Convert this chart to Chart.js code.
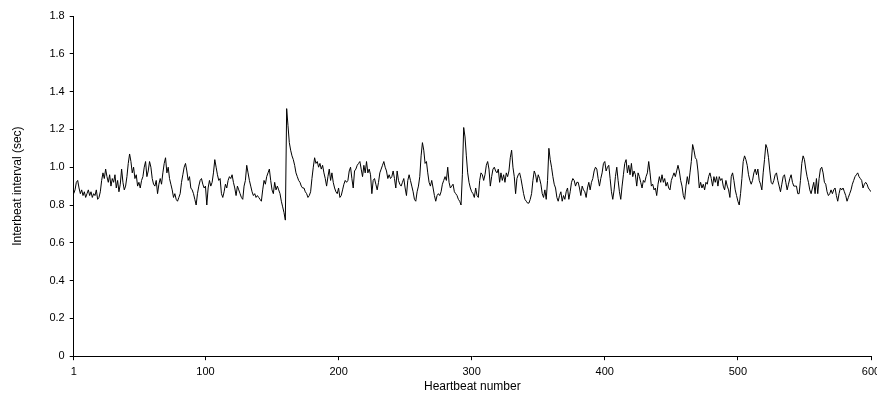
<!DOCTYPE html>
<html>
<head>
<meta charset="utf-8">
<script src="https://cdn.jsdelivr.net/npm/chart.js@4"></script>
<style>
  html, body { margin: 0; padding: 0; background: #fff; }
  #wrap { width: 877px; height: 401px; }
</style>
</head>
<body>
<div id="wrap"><canvas id="myChart" width="877" height="401"></canvas></div>
<script>
// interbeat intervals (sec), one per heartbeat 1..600
var intervals = [
  0.86, 0.88, 0.92, 0.93, 0.89, 0.86, 0.88, 0.85, 0.87, 0.84,
  0.86, 0.88, 0.85, 0.87, 0.84, 0.86, 0.85, 0.88, 0.83, 0.84,
  0.87, 0.93, 0.97, 0.94, 0.99, 0.95, 0.92, 0.96, 0.90, 0.94,
  0.92, 0.96, 0.89, 0.93, 0.87, 0.91, 0.99, 0.92, 0.88, 0.90,
  0.95, 1.02, 1.07, 1.03, 0.97, 1.00, 0.94, 0.96, 0.90, 0.92,
  0.89, 0.93, 0.95, 1.00, 1.03, 0.95, 0.98, 1.03, 1.00, 0.94,
  0.91, 0.90, 0.93, 0.86, 0.91, 0.94, 0.91, 0.97, 1.02, 1.05,
  0.97, 1.00, 0.94, 0.91, 0.88, 0.84, 0.86, 0.83, 0.82, 0.84,
  0.86, 0.92, 0.96, 1.00, 1.02, 0.98, 0.93, 0.95, 0.89, 0.88,
  0.86, 0.83, 0.80, 0.86, 0.90, 0.93, 0.94, 0.91, 0.89, 0.90,
  0.80, 0.89, 0.93, 0.90, 0.92, 0.97, 1.04, 1.00, 0.96, 0.93,
  0.94, 0.86, 0.84, 0.87, 0.91, 0.89, 0.93, 0.95, 0.94, 0.96,
  0.92, 0.89, 0.85, 0.90, 0.88, 0.86, 0.84, 0.83, 0.90, 0.93,
  1.01, 0.97, 0.93, 0.90, 0.87, 0.85, 0.86, 0.84, 0.85, 0.84,
  0.83, 0.82, 0.88, 0.93, 0.91, 0.95, 0.97, 0.99, 0.93, 0.88,
  0.86, 0.92, 0.88, 0.90, 0.88, 0.86, 0.82, 0.79, 0.76, 0.72,
  1.31, 1.22, 1.13, 1.09, 1.06, 1.04, 1.01, 0.97, 0.95, 0.93,
  0.92, 0.90, 0.89, 0.89, 0.87, 0.86, 0.84, 0.85, 0.87, 0.94,
  1.00, 1.05, 1.02, 1.03, 1.00, 1.02, 0.99, 1.01, 0.97, 0.94,
  0.90, 0.95, 0.99, 0.93, 0.97, 0.92, 0.89, 0.87, 0.86, 0.89,
  0.84, 0.85, 0.88, 0.91, 0.93, 0.92, 0.93, 0.98, 1.00, 0.94,
  0.89, 0.98, 0.99, 1.01, 1.02, 1.03, 0.99, 0.95, 1.01, 0.97,
  1.03, 0.97, 0.99, 0.96, 0.86, 0.93, 0.94, 0.91, 0.88, 0.92,
  0.97, 0.99, 1.01, 1.03, 1.00, 0.98, 0.94, 0.96, 0.94, 0.95,
  0.98, 0.94, 0.89, 0.98, 0.93, 0.91, 0.90, 0.92, 0.94, 0.89,
  0.85, 0.93, 0.96, 0.93, 0.90, 0.87, 0.83, 0.82, 0.87, 0.90,
  0.95, 1.06, 1.13, 1.09, 1.02, 1.03, 0.97, 0.92, 0.90, 0.93,
  0.89, 0.85, 0.82, 0.85, 0.86, 0.85, 0.87, 0.91, 0.93, 0.95,
  0.93, 1.00, 0.92, 0.89, 0.90, 0.91, 0.87, 0.86, 0.85, 0.83,
  0.82, 0.80, 0.96, 1.21, 1.16, 1.06, 0.97, 0.92, 0.89, 0.87,
  0.86, 0.84, 0.89, 0.85, 0.84, 0.93, 0.97, 0.96, 0.93, 0.96,
  1.01, 1.03, 0.99, 0.90, 0.95, 0.99, 1.00, 0.98, 0.97, 0.99,
  0.92, 0.97, 0.93, 0.96, 0.92, 0.97, 0.95, 0.98, 1.05, 1.09,
  1.00, 0.95, 0.86, 0.94, 0.96, 0.97, 0.94, 0.90, 0.86, 0.83,
  0.82, 0.81, 0.81, 0.83, 0.86, 0.93, 0.98, 0.96, 0.92, 0.96,
  0.94, 0.91, 0.86, 0.84, 0.88, 0.83, 0.93, 1.10, 1.04, 1.00,
  0.95, 0.91, 0.89, 0.84, 0.82, 0.85, 0.87, 0.82, 0.85, 0.83,
  0.87, 0.89, 0.83, 0.87, 0.92, 0.94, 0.93, 0.90, 0.92, 0.92,
  0.89, 0.85, 0.90, 0.88, 0.87, 0.84, 0.89, 0.92, 0.88, 0.92,
  0.94, 0.98, 1.00, 0.99, 0.94, 0.90, 0.94, 0.97, 1.02, 1.03,
  0.98, 1.00, 1.01, 0.94, 0.87, 0.83, 0.88, 0.95, 1.00, 0.93,
  0.87, 0.83, 0.90, 0.96, 1.02, 1.04, 0.97, 1.01, 0.96, 1.02,
  0.95, 0.98, 0.96, 0.90, 0.97, 0.95, 0.92, 0.89, 0.93, 0.92,
  0.95, 0.97, 1.03, 0.97, 0.90, 0.91, 0.88, 0.89, 0.85, 0.91,
  0.95, 0.92, 0.96, 0.92, 0.94, 0.90, 0.92, 0.89, 0.88, 0.93,
  0.95, 0.97, 0.95, 0.98, 1.01, 0.98, 0.93, 0.90, 0.85, 0.83,
  0.90, 0.95, 0.91, 0.97, 1.03, 1.12, 1.09, 1.05, 1.04, 0.98,
  0.89, 0.92, 0.89, 0.91, 0.88, 0.92, 0.91, 0.95, 0.97, 0.94,
  0.90, 0.95, 0.92, 0.95, 0.90, 0.95, 0.93, 0.94, 0.90, 0.88,
  0.93, 0.90, 0.88, 0.84, 0.95, 0.97, 0.93, 0.88, 0.85, 0.82,
  0.80, 0.86, 0.94, 1.03, 1.06, 1.04, 1.01, 0.96, 0.93, 0.91,
  0.93, 0.97, 0.99, 0.96, 0.99, 0.93, 0.91, 0.88, 0.97, 1.04,
  1.12, 1.10, 1.05, 0.98, 0.92, 0.91, 0.93, 0.96, 0.97, 0.93,
  0.90, 0.87, 0.91, 0.95, 0.96, 0.92, 0.88, 0.91, 0.94, 0.96,
  0.92, 0.90, 0.90, 0.90, 0.86, 0.86, 0.93, 1.02, 1.06, 1.04,
  0.99, 0.95, 0.92, 0.88, 0.86, 0.89, 0.92, 0.86, 0.94, 0.86,
  0.94, 0.99, 1.00, 0.97, 0.92, 0.91, 0.87, 0.85, 0.86, 0.88,
  0.86, 0.88, 0.89, 0.85, 0.82, 0.86, 0.89, 0.88, 0.89, 0.87,
  0.85, 0.82, 0.84, 0.86, 0.88, 0.91, 0.93, 0.95, 0.96, 0.97,
  0.95, 0.94, 0.93, 0.89, 0.91, 0.92, 0.91, 0.89, 0.88, 0.87
];

// x axis tick labels (heartbeat number)
var xTicks = [1, 100, 200, 300, 400, 500, 600];
// y axis range
var yMin = 0;
var yMax = 1.8;
var yStep = 0.2;

var points = intervals.map(function (v, i) { return { x: i + 1, y: v }; });

var tickFont = { family: "'Liberation Sans', Arial, sans-serif", size: 11 };

var chart = new Chart(document.getElementById("myChart"), {
    type: 'line',
    data: {
        datasets: [
            {
                data: points,
                borderColor: "#000",
                borderWidth: 1,
                pointRadius: 0,
                tension: 0,
                fill: false
            }
        ]
    },
    options: {
        responsive: false,
        animation: false,
        layout: { padding: { left: 10, right: 6, top: 16, bottom: 5 } },
        plugins: {
            legend: { display: false },
            tooltip: { enabled: false }
        },
        scales: {
            x: {
                type: 'linear',
                min: 1,
                max: 600,
                afterBuildTicks: function (scale) {
                    scale.ticks = xTicks.map(function (v) { return { value: v }; });
                },
                afterFit: function (scale) {
                    // let the last label run off the edge like the original
                    scale.paddingRight = 0;
                    scale.paddingLeft = 0;
                },
                grid: { display: true, drawOnChartArea: false, drawTicks: true, tickLength: 4, color: "#000" },
                border: { display: true, color: "#000", width: 1 },
                ticks: { color: "#000", font: tickFont, maxRotation: 0, autoSkip: false, padding: 5 },
                title: { display: true, text: 'Heartbeat number', color: "#000", font: { family: tickFont.family, size: 12, lineHeight: 1.05 }, padding: { top: -3, bottom: 3 } }
            },
            y: {
                min: yMin,
                max: yMax,
                ticks: { stepSize: yStep, color: "#000", font: tickFont, padding: 5 },
                grid: { display: true, drawOnChartArea: false, drawTicks: true, tickLength: 4, color: "#000" },
                border: { display: true, color: "#000", width: 1 },
                title: { display: true, text: 'Interbeat interval (sec)', color: "#000", font: { family: tickFont.family, size: 12 }, padding: { top: 0, bottom: 20 } }
            }
        }
    }
});
</script>
</body>
</html>
